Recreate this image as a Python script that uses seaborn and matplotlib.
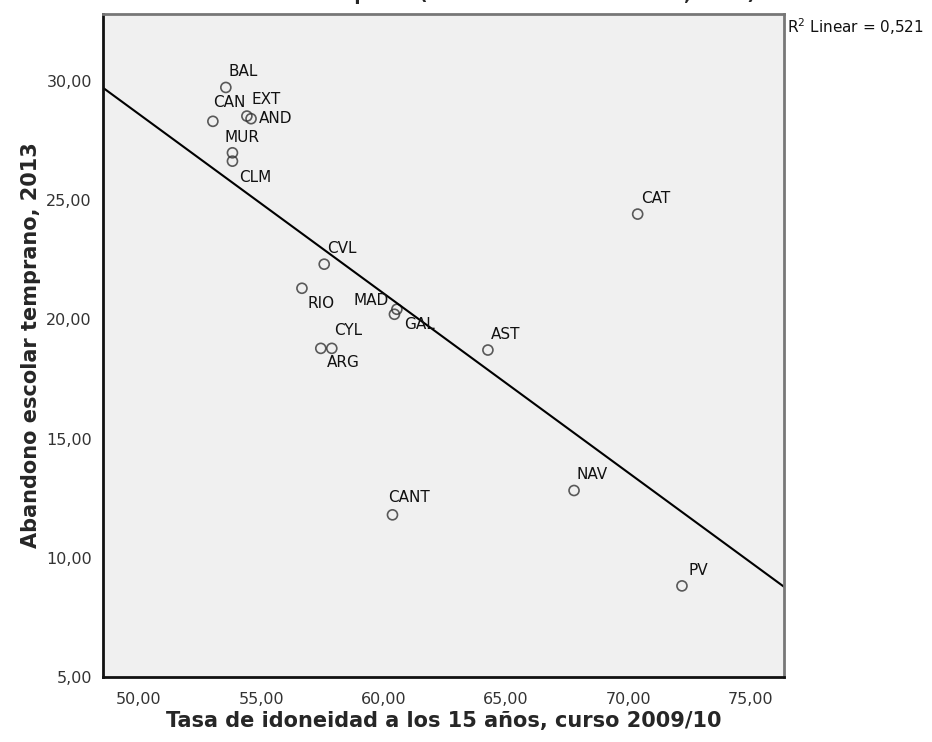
import matplotlib
matplotlib.use("Agg")
import matplotlib.pyplot as plt
import pandas as pd
import seaborn as sns

# Data
regions = ["BAL", "CAN", "EXT", "AND", "MUR", "CLM", "CAT", "CVL", "RIO",
           "MAD", "GAL", "CYL", "ARG", "AST", "CANT", "NAV", "PV"]
idoneidad = [53.55, 53.02, 54.41, 54.58, 53.82, 53.82, 70.38, 57.57, 56.66,
             60.54, 60.44, 57.88, 57.43, 64.26, 60.36, 67.78, 72.19]
abandono = [29.72, 28.30, 28.52, 28.41, 26.98, 26.63, 24.41, 22.31, 21.30,
            20.42, 20.21, 18.78, 18.78, 18.71, 11.80, 12.82, 8.82]
r2_text = "R$^2$ Linear = 0,521"

df = pd.DataFrame({"region": regions, "x": idoneidad, "y": abandono})

# label offsets in pixels (dx, dy up) and alignment
offsets = {
    "BAL": (3, 16, "left"), "CAN": (0, 19, "left"), "EXT": (5, 17, "left"),
    "AND": (8, 0, "left"), "MUR": (-8, 15, "left"), "CLM": (7, -16, "left"),
    "CAT": (3, 16, "left"), "CVL": (3, 16, "left"), "RIO": (6, -15, "left"),
    "MAD": (-8, 9, "right"), "GAL": (10, -10, "left"), "CYL": (2, 18, "left"),
    "ARG": (6, -14, "left"), "AST": (3, 16, "left"), "CANT": (-4, 17, "left"),
    "NAV": (2, 16, "left"), "PV": (7, 15, "left"),
}

sns.set_style("white")
plt.rcParams["font.family"] = ["DejaVu Sans"]

fig = plt.figure(figsize=(9.32, 7.42), dpi=100)
ax = fig.add_axes([103 / 932, 1 - 677 / 742, (784 - 103) / 932, (677 - 14) / 742])
ax.set_facecolor("#f0f0f0")

ax.set_xlim(48.53, 76.36)
ax.set_ylim(5.0, 32.8)

sns.regplot(data=df, x="x", y="y", ax=ax, ci=None, truncate=False,
            scatter_kws={"s": 52, "facecolors": "none", "edgecolors": "#333333",
                         "linewidths": 1.2},
            line_kws={"color": "black", "linewidth": 1.5})
ax.set_xlim(48.53, 76.36)
ax.set_ylim(5.0, 32.8)

px = 72 / 100
for _, row in df.iterrows():
    dx, dy, ha = offsets[row["region"]]
    ax.annotate(row["region"], (row["x"], row["y"]), xytext=(dx * px, dy * px),
                textcoords="offset points", ha=ha, va="center",
                fontsize=11, color="#111111")

ax.set_xticks([50, 55, 60, 65, 70, 75])
ax.set_yticks([5, 10, 15, 20, 25, 30])
ax.set_xticklabels(["50,00", "55,00", "60,00", "65,00", "70,00", "75,00"])
ax.set_yticklabels(["5,00", "10,00", "15,00", "20,00", "25,00", "30,00"])
ax.tick_params(axis="both", direction="out", length=7, width=1.5,
               labelsize=11.5, labelcolor="#333333", color="#222222")
ax.tick_params(axis="y", pad=1)
ax.tick_params(axis="x", pad=4)

for side in ["left", "bottom"]:
    ax.spines[side].set_color("#111111")
    ax.spines[side].set_linewidth(2)
for side in ["top", "right"]:
    ax.spines[side].set_color("#777777")
    ax.spines[side].set_linewidth(2)

ax.set_xlabel("Tasa de idoneidad a los 15 años, curso 2009/10",
              fontsize=15, fontweight="bold", labelpad=3)
ax.set_ylabel("Abandono escolar temprano, 2013",
              fontsize=15, fontweight="bold", labelpad=4)

fig.text(787 / 932, 1 - 27 / 742, r2_text, fontsize=11, ha="left", va="center",
         color="#111111")

# title is cut off at the top of the original image
fig.text(0.474, 1.0, "Abandono escolar temprano (Comunidades Autónomas, 2013)",
         fontsize=13, fontweight="bold", ha="center", va="baseline")

fig.savefig("out.png", dpi=100)
